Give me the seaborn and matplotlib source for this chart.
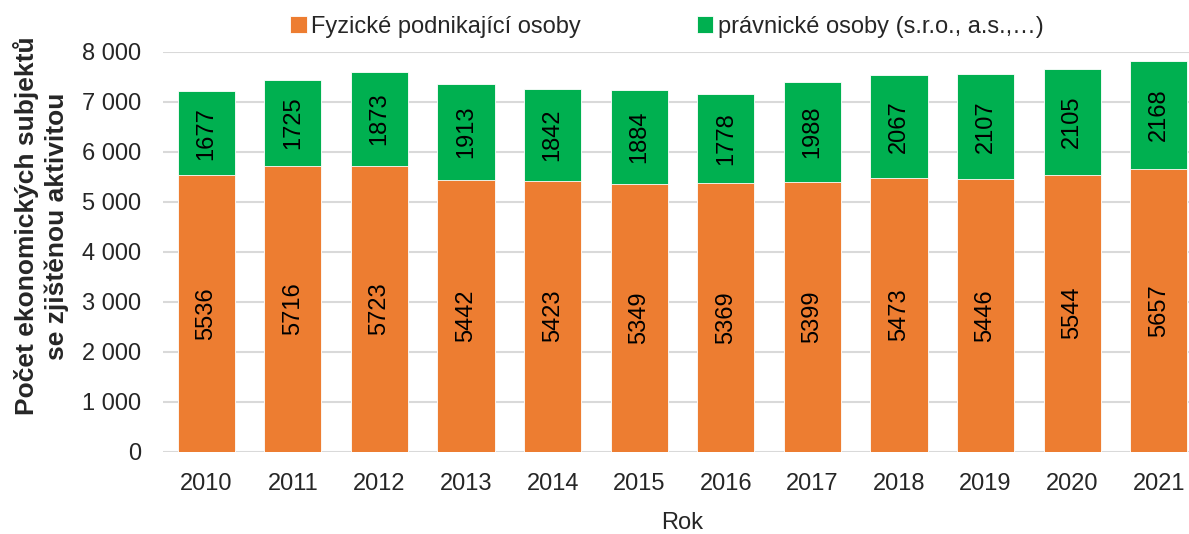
import matplotlib
matplotlib.use("Agg")
import matplotlib.pyplot as plt
import matplotlib.ticker as mticker
import seaborn as sns
import pandas as pd

# Datos
roky = ['2010', '2011', '2012', '2013', '2014', '2015', '2016', '2017', '2018', '2019', '2020', '2021']
fyzicke = [5536, 5716, 5723, 5442, 5423, 5349, 5369, 5399, 5473, 5446, 5544, 5657]
pravnicke = [1677, 1725, 1873, 1913, 1842, 1884, 1778, 1988, 2067, 2107, 2105, 2168]

df = pd.DataFrame({'Rok': roky, 'Fyzicke': fyzicke, 'Pravnicke': pravnicke})
df['Celkem'] = df['Fyzicke'] + df['Pravnicke']

oranzova = '#ED7D31'
zelena = '#00B050'

sns.set_style('white')
plt.rcParams['font.family'] = ['Liberation Sans', 'DejaVu Sans']

fig = plt.figure(figsize=(11.89, 5.34), dpi=100)
ax = fig.add_axes([163 / 1189, 0.154, (1202 - 163) / 1189, 0.749])

# Sloupce: celek (zelena) a pres nej fyzicke osoby (oranzova)
sns.barplot(data=df, x='Rok', y='Celkem', color=zelena, width=0.66, ax=ax,
            edgecolor='white', linewidth=0.6, saturation=1, label='právnické osoby (s.r.o., a.s.,…)')
n = len(df)
sns.barplot(data=df, x='Rok', y='Fyzicke', color=oranzova, width=0.66, ax=ax,
            edgecolor='white', linewidth=0.6, saturation=1, label='Fyzické podnikající osoby')

zelene = ax.patches[:n]
oranzove = ax.patches[n:2 * n]
for p, v in zip(oranzove, df['Fyzicke']):
    ax.text(p.get_x() + p.get_width() / 2, v / 2, str(v), rotation=90,
            ha='center', va='center', fontsize=17, color='black')
for p, f, v in zip(zelene, df['Fyzicke'], df['Pravnicke']):
    ax.text(p.get_x() + p.get_width() / 2, f + v / 2, str(v), rotation=90,
            ha='center', va='center', fontsize=17, color='black')

ax.set_ylim(0, 8000)
ax.set_xlim(-0.5, n - 0.5)
ax.yaxis.set_major_locator(mticker.MultipleLocator(1000))
ax.yaxis.set_major_formatter(mticker.FuncFormatter(lambda x, pos: f'{int(x):,}'.replace(',', ' ')))
ax.grid(axis='y', color='#D9D9D9', linewidth=1.5)
ax.set_axisbelow(True)
for s in ax.spines.values():
    s.set_visible(False)
ax.tick_params(axis='both', length=0, labelsize=17)
ax.tick_params(axis='y', pad=16)
ax.tick_params(axis='x', pad=15)

ax.set_ylabel('')
fig.text(682 / 1189, 1 - 523 / 534, 'Rok', ha='center', va='center', fontsize=17)
fig.text(41 / 1189, 1 - 226 / 534, 'Počet ekonomických subjektů\nse zjištěnou aktivitou',
         rotation=90, ha='center', va='center', fontsize=19, fontweight='bold', linespacing=1.3)
ax.set_xlabel('')

# Legenda
h, l = ax.get_legend_handles_labels()
ax.legend([h[1], h[0]], [l[1], l[0]], loc='center', bbox_to_anchor=(667 / 1189, 1 - 27 / 534),
          bbox_transform=fig.transFigure, ncol=2, frameon=False, fontsize=17,
          handlelength=0.7, handleheight=0.7, handletextpad=0.2, columnspacing=4.9)

fig.savefig('out.png', dpi=100)
